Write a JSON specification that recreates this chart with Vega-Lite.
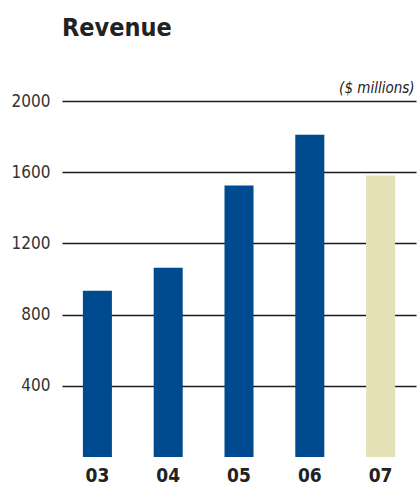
{
  "$schema": "https://vega.github.io/schema/vega-lite/v6.json",
  "width": 354,
  "height": 356,
  "autosize": "none",
  "padding": {"left": 62, "top": 101, "right": 4, "bottom": 30},
  "background": "white",
  "config": {"view": {"stroke": null}, "font": "DejaVu Sans Condensed, Liberation Sans, sans-serif"},
  "title": {
    "text": "Revenue",
    "anchor": "start",
    "frame": "group",
    "orient": "top",
    "baseline": "alphabetic",
    "offset": 19,
    "fontSize": 25,
    "fontWeight": "bold",
    "font": "DejaVu Sans Condensed, Liberation Sans, sans-serif",
    "color": "#222222"
  },
  "data": {
    "values": [
      {"year": "03", "revenue": 934, "kind": "actual"},
      {"year": "04", "revenue": 1063, "kind": "actual"},
      {"year": "05", "revenue": 1525, "kind": "actual"},
      {"year": "06", "revenue": 1811, "kind": "actual"},
      {"year": "07", "revenue": 1581, "kind": "outlook"}
    ]
  },
  "mark": {"type": "bar"},
  "encoding": {
    "x": {
      "field": "year",
      "type": "nominal",
      "sort": null,
      "scale": {"paddingInner": 0.59, "paddingOuter": 0.295},
      "axis": {
        "title": null,
        "domain": false,
        "ticks": false,
        "labelAngle": 0,
        "labelFontSize": 19,
        "labelFontWeight": "bold",
        "labelColor": "#222222",
        "labelPadding": 9,
        "labelFont": "DejaVu Sans Condensed, Liberation Sans, sans-serif"
      }
    },
    "y": {
      "field": "revenue",
      "type": "quantitative",
      "scale": {"domain": [0, 2000], "nice": false},
      "axis": {
        "title": "($ millions)",
        "titleAngle": 0,
        "titleAlign": "right",
        "titleBaseline": "alphabetic",
        "titleX": 352,
        "titleY": -9,
        "titleFontSize": 15,
        "titleFontStyle": "italic",
        "titleFontWeight": "normal",
        "titleColor": "#222222",
        "titleFont": "DejaVu Sans Condensed, Liberation Sans, sans-serif",
        "values": [400, 800, 1200, 1600, 2000],
        "format": "d",
        "domain": false,
        "ticks": false,
        "grid": true,
        "gridColor": "#1a1a1a",
        "gridWidth": 1.5,
        "gridOpacity": 1,
        "labelFontSize": 17,
        "labelColor": "#333333",
        "labelPadding": 12,
        "labelFont": "DejaVu Sans Condensed, Liberation Sans, sans-serif"
      }
    },
    "color": {
      "field": "kind",
      "type": "nominal",
      "scale": {"domain": ["actual", "outlook"], "range": ["#004A8F", "#E5E1B7"]},
      "legend": null
    }
  }
}
